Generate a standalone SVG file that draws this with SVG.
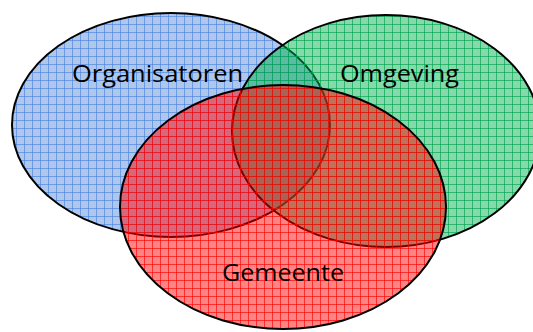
<svg xmlns="http://www.w3.org/2000/svg" width="533" height="332" viewBox="0 0 533 332">
  <defs>
    <pattern id="pb" patternUnits="userSpaceOnUse" width="8" height="8">
      <rect width="8" height="8" fill="#5a8ad6" fill-opacity="0.48"/>
      <path d="M0.5 0V8M0 0.5H8" stroke="#4a82e0" stroke-opacity="0.65" stroke-width="1"/>
    </pattern>
    <pattern id="pg" patternUnits="userSpaceOnUse" width="8" height="8">
      <rect width="8" height="8" fill="#00b050" fill-opacity="0.48"/>
      <path d="M0.5 0V8M0 0.5H8" stroke="#00a550" stroke-opacity="0.65" stroke-width="1"/>
    </pattern>
    <pattern id="pr" patternUnits="userSpaceOnUse" width="8" height="8">
      <rect width="8" height="8" fill="#ff0000" fill-opacity="0.48"/>
      <path d="M0.5 0V8M0 0.5H8" stroke="#ff0000" stroke-opacity="0.65" stroke-width="1"/>
    </pattern>
    <style>
      .e { stroke: #000; stroke-width: 2; }
      .t { font-family: "Open Sans", "Liberation Sans", sans-serif; font-size: 24px; fill: #000; }
    </style>
  </defs>
  <g id="organisatoren">
    <ellipse class="e" cx="171" cy="125" rx="159" ry="112" fill="url(#pb)"/>
  </g>
  <g id="omgeving">
    <ellipse class="e" cx="386" cy="131" rx="154" ry="116" fill="url(#pg)"/>
  </g>
  <g id="gemeente">
    <ellipse class="e" cx="283" cy="207" rx="163" ry="122" fill="url(#pr)"/>
  </g>
  <g id="connectors"/>
  <g id="labels">
    <text class="t" x="72" y="82" textLength="171" lengthAdjust="spacingAndGlyphs">Organisatoren</text>
    <text class="t" x="340" y="82" textLength="119" lengthAdjust="spacingAndGlyphs">Omgeving</text>
    <text class="t" x="222" y="281" textLength="122" lengthAdjust="spacingAndGlyphs">Gemeente</text>
  </g>
</svg>
